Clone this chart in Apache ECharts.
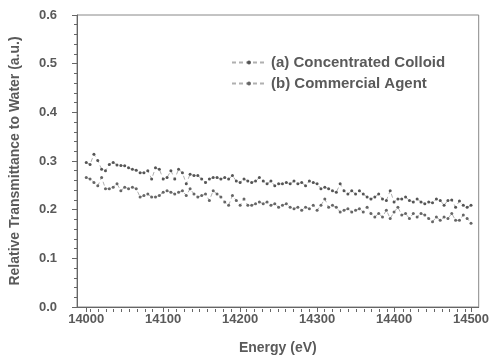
<!DOCTYPE html>
<html>
<head>
<meta charset="utf-8">
<script src="https://cdn.jsdelivr.net/npm/echarts@6/dist/echarts.min.js"></script>
<style>
  html, body { margin: 0; padding: 0; background: #fff; }
  #chart { width: 492px; height: 360px; }
</style>
</head>
<body>
<div id="chart"></div>
<script>
// Photon energies (eV), 5 eV steps from 14000 to 14500
const energy = [];
for (let e = 14000; e <= 14500; e += 5) energy.push(e);

const seriesNames = ['(a) Concentrated Colloid', '(b) Commercial Agent'];

// Relative transmittance to water, concentrated colloid
const colloid = [
  0.297, 0.293, 0.314, 0.301, 0.283, 0.280, 0.293, 0.297, 0.292, 0.291,
  0.290, 0.286, 0.283, 0.281, 0.276, 0.276, 0.280, 0.263, 0.286, 0.283,
  0.263, 0.266, 0.280, 0.263, 0.283, 0.276, 0.253, 0.273, 0.270, 0.270,
  0.263, 0.256, 0.263, 0.266, 0.266, 0.263, 0.266, 0.263, 0.270, 0.259,
  0.256, 0.263, 0.259, 0.256, 0.259, 0.266, 0.259, 0.253, 0.259, 0.249,
  0.253, 0.253, 0.256, 0.253, 0.259, 0.253, 0.256, 0.249, 0.259, 0.256,
  0.253, 0.243, 0.246, 0.243, 0.239, 0.236, 0.253, 0.239, 0.232, 0.239,
  0.232, 0.239, 0.232, 0.226, 0.222, 0.226, 0.232, 0.222, 0.219, 0.239,
  0.216, 0.222, 0.222, 0.226, 0.219, 0.216, 0.222, 0.216, 0.212, 0.216,
  0.214, 0.222, 0.219, 0.209, 0.219, 0.220, 0.205, 0.218, 0.209, 0.205,
  0.209
];

// Relative transmittance to water, commercial agent
const commercial = [
  0.266, 0.263, 0.256, 0.249, 0.266, 0.243, 0.243, 0.246, 0.253, 0.239,
  0.246, 0.243, 0.246, 0.243, 0.226, 0.229, 0.232, 0.226, 0.226, 0.229,
  0.236, 0.239, 0.236, 0.232, 0.236, 0.239, 0.229, 0.243, 0.232, 0.226,
  0.229, 0.232, 0.219, 0.239, 0.232, 0.226, 0.216, 0.209, 0.229, 0.219,
  0.209, 0.222, 0.209, 0.209, 0.212, 0.216, 0.212, 0.216, 0.209, 0.212,
  0.205, 0.209, 0.212, 0.205, 0.202, 0.205, 0.199, 0.205, 0.202, 0.209,
  0.199, 0.209, 0.222, 0.205, 0.209, 0.205, 0.195, 0.199, 0.202, 0.195,
  0.199, 0.202, 0.195, 0.205, 0.192, 0.185, 0.192, 0.185, 0.199, 0.182,
  0.195, 0.205, 0.189, 0.192, 0.182, 0.192, 0.185, 0.192, 0.189, 0.182,
  0.175, 0.185, 0.178, 0.185, 0.182, 0.192, 0.178, 0.178, 0.189, 0.182,
  0.172
];

// Axis ticks
const xMajorTicks = [14000, 14100, 14200, 14300, 14400, 14500];
const xMinorTicks = [];
for (let e = 14000; e <= 14500; e += 10) if (e % 100 !== 0) xMinorTicks.push(e);

const textColor = '#5a5a5a';
const axisColor = '#666';
const font = 'Liberation Sans, Arial, sans-serif';

const pairs = arr => energy.map((e, i) => [e, arr[i]]);

const plotBox = { left: 73, right: 11, top: 15, bottom: 48 };

const chart = echarts.init(document.getElementById('chart'), null, { renderer: 'canvas' });
chart.setOption({
  animation: false,
  backgroundColor: '#fff',
  textStyle: { fontFamily: font },
  grid: [
    Object.assign({ show: true, borderColor: '#888', borderWidth: 1 }, plotBox),
    // overlay grid carrying the minor energy ticks
    Object.assign({ show: false }, plotBox)
  ],
  legend: {
    orient: 'vertical',
    left: 226, top: 50,
    itemWidth: 34, itemHeight: 5, itemGap: 6,
    data: seriesNames,
    textStyle: { color: textColor, fontSize: 15, fontWeight: 'bold', fontFamily: font, lineHeight: 14 }
  },
  xAxis: [{
    type: 'value',
    gridIndex: 0,
    min: 13988, max: 14510,
    name: 'Energy (eV)',
    nameLocation: 'middle', nameGap: 34,
    nameTextStyle: { color: textColor, fontSize: 14, fontWeight: 'bold' },
    axisLine: { lineStyle: { color: axisColor, width: 1 } },
    axisTick: { show: true, length: 5, customValues: xMajorTicks, lineStyle: { color: axisColor } },
    axisLabel: {
      customValues: xMajorTicks, color: textColor, fontSize: 13, fontWeight: 'bold', margin: 6,
      formatter: v => String(v)
    },
    splitLine: { show: false }
  }, {
    type: 'value',
    gridIndex: 1,
    min: 13988, max: 14510,
    position: 'bottom',
    axisLine: { show: false },
    axisTick: { show: true, inside: true, length: 3, customValues: xMinorTicks, lineStyle: { color: axisColor } },
    axisLabel: { show: true, customValues: xMinorTicks, formatter: () => '' },
    splitLine: { show: false }
  }],
  yAxis: [{
    type: 'value',
    gridIndex: 0,
    min: 0, max: 0.6, interval: 0.1,
    name: 'Relative Transmittance to Water (a.u.)',
    nameLocation: 'middle', nameGap: 55,
    nameTextStyle: { color: textColor, fontSize: 14, fontWeight: 'bold' },
    axisLine: { show: true, lineStyle: { color: axisColor, width: 1 } },
    axisTick: { show: true, length: 5, lineStyle: { color: axisColor } },
    minorTick: { show: true, splitNumber: 5, length: 3, lineStyle: { color: axisColor } },
    axisLabel: {
      color: textColor, fontSize: 13, fontWeight: 'bold', margin: 20,
      formatter: v => v.toFixed(1)
    },
    splitLine: { show: false }
  }, {
    type: 'value',
    gridIndex: 1,
    min: 0, max: 0.6, interval: 0.1,
    show: false
  }],
  series: [{
    name: seriesNames[0],
    type: 'line',
    xAxisIndex: 0, yAxisIndex: 0,
    data: pairs(colloid),
    symbol: 'circle', symbolSize: 3,
    itemStyle: { color: '#555' },
    lineStyle: { color: '#b0b0b0', width: 1, type: [4, 3] }
  }, {
    name: seriesNames[1],
    type: 'line',
    xAxisIndex: 0, yAxisIndex: 0,
    data: pairs(commercial),
    symbol: 'circle', symbolSize: 3,
    itemStyle: { color: '#666' },
    lineStyle: { color: '#b0b0b0', width: 1, type: [4, 3] }
  }]
});
</script>
</body>
</html>
